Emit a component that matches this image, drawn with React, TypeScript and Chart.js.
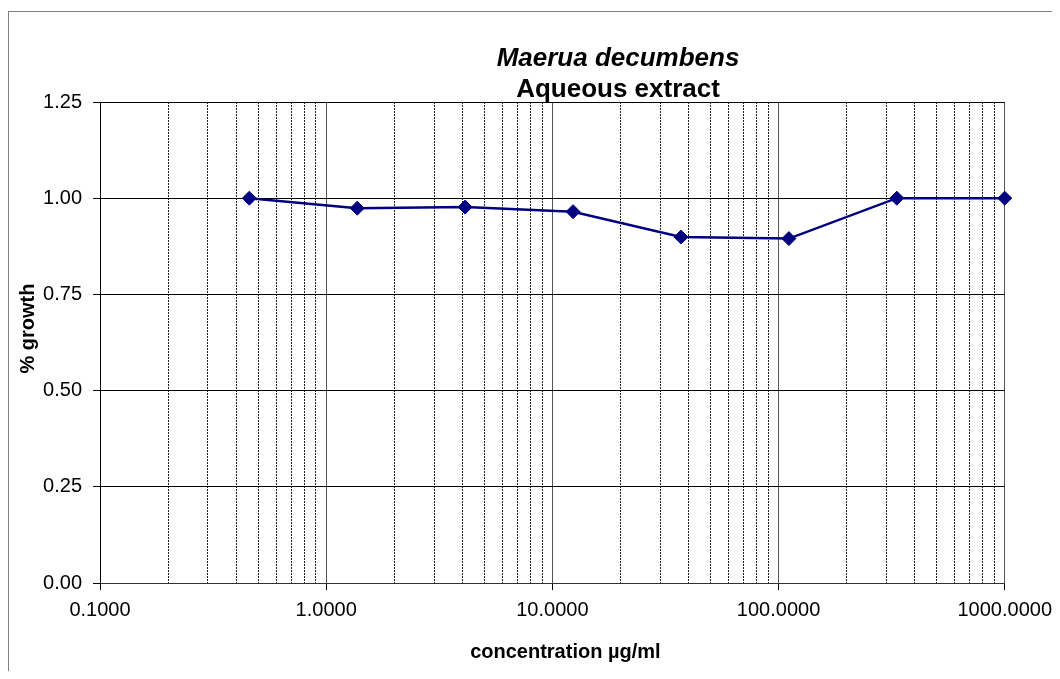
import React, { useEffect, useRef } from "react";
import { Chart, registerables } from "chart.js";

Chart.register(...registerables);

const TITLE_LINE_1 = "Maerua decumbens";
const TITLE_LINE_2 = "Aqueous extract";
const X_TITLE = "concentration µg/ml";
const Y_TITLE = "% growth";

const concentrations = [0.4572, 1.3717, 4.1152, 12.3457, 37.037, 111.111, 333.333, 1000];
const growth = [1.0, 0.974, 0.977, 0.965, 0.899, 0.895, 1.0, 1.0];

const X_MIN = 0.1;
const X_MAX = 1000;
const X_MAJOR_TICKS = [0.1, 1, 10, 100, 1000];
const X_MINOR_TICKS = [
  0.2, 0.3, 0.4, 0.5, 0.6, 0.7, 0.8, 0.9,
  2, 3, 4, 5, 6, 7, 8, 9,
  20, 30, 40, 50, 60, 70, 80, 90,
  200, 300, 400, 500, 600, 700, 800, 900,
];
const Y_MIN = 0;
const Y_MAX = 1.25;
const Y_STEP = 0.25;

const FONT = 'Arial, "Liberation Sans", sans-serif';

const titlePlugin = {
  id: "chartTexts",
  afterDraw(chart: any) {
    const { ctx, chartArea } = chart;
    ctx.save();
    ctx.fillStyle = "#000";
    ctx.textAlign = "center";
    ctx.textBaseline = "alphabetic";
    const cx = 609;
    ctx.font = `italic bold 26px ${FONT}`;
    ctx.fillText(TITLE_LINE_1, cx, 54);
    ctx.font = `bold 26px ${FONT}`;
    ctx.fillText(TITLE_LINE_2, cx, 85);

    ctx.font = `bold 20px ${FONT}`;
    ctx.textBaseline = "middle";
    ctx.fillText(X_TITLE, (chartArea.left + chartArea.right) / 2 + 13, 640);

    ctx.translate(19, (chartArea.top + chartArea.bottom) / 2 - 14);
    ctx.rotate(-Math.PI / 2);
    ctx.fillText(Y_TITLE, 0, 0);
    ctx.restore();
  },
};

export default function App() {
  const ref = useRef<HTMLCanvasElement>(null);

  useEffect(() => {
    if (!ref.current) return;
    const chart = new Chart(ref.current, {
      type: "line",
      data: {
        datasets: [
          {
            data: concentrations.map((c, i) => ({ x: c, y: growth[i] })),
            borderColor: "#000080",
            backgroundColor: "#000080",
            borderWidth: 2.5,
            pointStyle: "rectRot",
            pointRadius: 7,
            pointBorderWidth: 1,
            pointBorderColor: "#000080",
            pointBackgroundColor: "#000080",
            tension: 0,
            clip: false,
          },
        ],
      },
      options: {
        responsive: false,
        animation: false,
        events: [],
        layout: { padding: { top: 90, right: 54, left: 0, bottom: 0 } },
        plugins: {
          legend: { display: false },
          title: { display: false },
          tooltip: { enabled: false },
        },
        scales: {
          x: {
            type: "logarithmic",
            position: "bottom",
            min: X_MIN,
            max: X_MAX,
            afterBuildTicks: (axis: any) => {
              axis.ticks = X_MAJOR_TICKS.map((v) => ({ value: v }));
            },
            afterFit: (axis: any) => {
              axis.height = 88;
            },
            ticks: {
              autoSkip: false,
              maxRotation: 0,
              padding: 8,
              color: "#000",
              font: { family: FONT, size: 20 },
              callback: (v: any) => Number(v).toFixed(4),
            },
            grid: {
              color: "#555",
              lineWidth: 1,
              tickLength: 7,
              tickColor: "#000",
            },
            border: { display: true, color: "#333", width: 1 },
          },
          xMinor: {
            type: "logarithmic",
            position: "bottom",
            min: X_MIN,
            max: X_MAX,
            afterBuildTicks: (axis: any) => {
              axis.ticks = X_MINOR_TICKS.map((v) => ({ value: v }));
            },
            afterFit: (axis: any) => {
              axis.height = 0;
            },
            ticks: { display: false, autoSkip: false },
            grid: { color: "#222", lineWidth: 1, drawTicks: false },
            border: { display: false, dash: [2, 1] },
          },
          y: {
            type: "linear",
            min: Y_MIN,
            max: Y_MAX,
            afterFit: (axis: any) => {
              axis.width = 91;
            },
            ticks: {
              stepSize: Y_STEP,
              padding: 11,
              color: "#000",
              font: { family: FONT, size: 20 },
              callback: (v: any) => Number(v).toFixed(2),
            },
            grid: {
              color: "#000",
              lineWidth: 1,
              tickLength: 7,
              tickColor: "#000",
            },
            border: { display: true, color: "#000", width: 1 },
          },
        },
      },
      plugins: [titlePlugin],
    } as any);
    return () => chart.destroy();
  }, []);

  return (
    <div style={{ paddingTop: 3 }}>
      <div
        style={{
          width: 1051,
          height: 659,
          borderTop: "1px solid #808080",
          borderLeft: "1px solid #808080",
          background: "#fff",
        }}
      >
        <canvas ref={ref} width={1051} height={659} style={{ display: "block" }} />
      </div>
    </div>
  );
}
